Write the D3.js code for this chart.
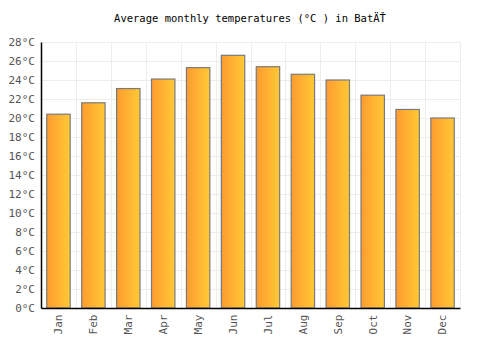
<!DOCTYPE html>
<html><head><meta charset="utf-8">
<script src="https://cdn.jsdelivr.net/npm/d3@7"></script>
<style>body{margin:0;background:#fff}svg{display:block}</style>
</head><body>
<script>
const months = ["Jan","Feb","Mar","Apr","May","Jun","Jul","Aug","Sep","Oct","Nov","Dec"];
const temps = [20.4,21.6,23.1,24.1,25.3,26.6,25.4,24.6,24.0,22.4,20.9,20.0];
const yTicks = [0,2,4,6,8,10,12,14,16,18,20,22,24,26,28];
const title = "Average monthly temperatures (°C ) in BatÄŤ";

const W=500,H=350, m={l:41,r:40,t:42,b:42};
const svg=d3.select("body").append("svg").attr("width",W).attr("height",H);
const defs=svg.append("defs");
const g1=defs.append("linearGradient").attr("id","bg").attr("x1","0").attr("x2","1").attr("y1","0").attr("y2","0");
g1.append("stop").attr("offset","0").attr("stop-color","#ff9b30");
g1.append("stop").attr("offset","1").attr("stop-color","#ffc935");

const x=d3.scaleBand().domain(months).range([m.l,W-m.r]).paddingInner(0.33).paddingOuter(0.165);
const y=d3.scaleLinear().domain([0,28]).range([H-m.b,m.t]);
const font="'DejaVu Sans Mono', monospace";

// grid
const grid=svg.append("g");
grid.selectAll("line.h").data(yTicks).join("line").attr("x1",m.l).attr("x2",W-m.r)
  .attr("y1",d=>y(d)+0.5).attr("y2",d=>y(d)+0.5).attr("stroke","#ededed");
const step=x.step();
grid.selectAll("line.v").data(d3.range(months.length+1)).join("line")
  .attr("x1",i=>Math.round(m.l+i*step)+0.5).attr("x2",i=>Math.round(m.l+i*step)+0.5)
  .attr("y1",m.t).attr("y2",H-m.b).attr("stroke","#ededed");

// bars
svg.append("g").selectAll("rect").data(temps).join("rect")
  .attr("x",(d,i)=>x(months[i])).attr("width",x.bandwidth())
  .attr("y",d=>y(d)).attr("height",d=>y(0)-y(d))
  .attr("fill","url(#bg)").attr("stroke","#7a7a7a").attr("stroke-width",1.2);

// axes
const ya=svg.append("g").attr("transform",`translate(${m.l},0)`)
  .call(d3.axisLeft(y).tickValues(yTicks).tickSize(0).tickPadding(6).tickFormat(d=>d+"°C"));
ya.select(".domain").attr("stroke","#000").attr("stroke-width",1.5);
ya.selectAll("text").attr("font-family",font).attr("font-size",11).attr("fill","#555");

const xa=svg.append("g").attr("transform",`translate(0,${H-m.b})`)
  .call(d3.axisBottom(x).tickSize(0).tickPadding(8));
xa.select(".domain").attr("stroke","#000").attr("stroke-width",1.5);
xa.selectAll("text").attr("font-family",font).attr("font-size",11).attr("fill","#555")
  .attr("transform","rotate(-90)").attr("text-anchor","end").attr("dx","-0.6em").attr("dy","0.35em")
  .attr("x",0).attr("y",0);

svg.append("text").attr("x",250).attr("y",22).attr("text-anchor","middle")
  .attr("font-family",font).attr("font-size",10.5).attr("fill","#000").text(title);
</script>
</body></html>
